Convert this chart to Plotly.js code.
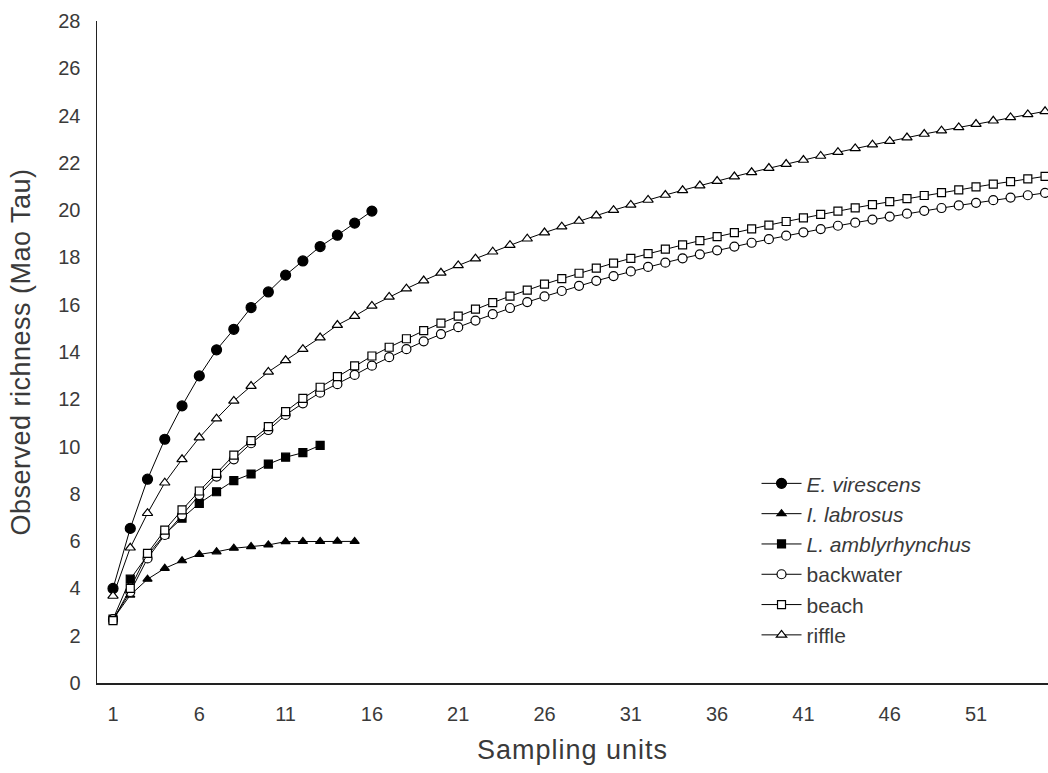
<!DOCTYPE html>
<html>
<head>
<meta charset="utf-8">
<script src="https://cdn.plot.ly/plotly-3.0.1.min.js"></script>
<style>
  html, body { margin: 0; padding: 0; background: #fff; }
  #chart { width: 1048px; height: 773px; }
  #chart .xtitle { letter-spacing: 1px; }
  #chart .ytitle { letter-spacing: 0.5px; }
</style>
</head>
<body>
<div id="chart"></div>
<script>
// Species accumulation curves (Mao Tau observed richness) per sampling unit
const eVirescens = [4.0, 6.54, 8.62, 10.31, 11.72, 12.99, 14.09, 14.96, 15.88, 16.54,
  17.25, 17.85, 18.46, 18.94, 19.45, 19.96];
const iLabrosus = [2.7, 3.72, 4.39, 4.85, 5.17, 5.44, 5.55, 5.7, 5.77, 5.84,
  5.98, 5.99, 5.99, 6.0, 5.99];
const lAmblyrhynchus = [2.7, 4.39, 5.4, 6.3, 6.97, 7.6, 8.09, 8.56, 8.84, 9.26,
  9.55, 9.74, 10.05];
const backwater = [2.7, 3.85, 5.27, 6.26, 7.1, 7.95, 8.73, 9.46, 10.14, 10.7,
  11.34, 11.83, 12.28, 12.64, 13.03, 13.42, 13.78, 14.12, 14.45, 14.76,
  15.05, 15.33, 15.6, 15.86, 16.11, 16.35, 16.58, 16.8, 17.01, 17.21,
  17.41, 17.6, 17.78, 17.96, 18.13, 18.3, 18.46, 18.62, 18.77, 18.92,
  19.06, 19.2, 19.34, 19.47, 19.6, 19.73, 19.85, 19.97, 20.09, 20.2,
  20.31, 20.42, 20.53, 20.63, 20.73];
const beach = [2.64, 4.0, 5.48, 6.47, 7.32, 8.12, 8.87, 9.64, 10.25, 10.84,
  11.48, 12.04, 12.51, 12.96, 13.41, 13.83, 14.2, 14.56, 14.9, 15.22,
  15.52, 15.81, 16.09, 16.36, 16.62, 16.87, 17.1, 17.33, 17.55, 17.76,
  17.96, 18.16, 18.35, 18.53, 18.71, 18.88, 19.05, 19.21, 19.37, 19.52,
  19.67, 19.82, 19.96, 20.1, 20.23, 20.36, 20.49, 20.62, 20.74, 20.86,
  20.98, 21.1, 21.21, 21.32, 21.43];
const riffle = [3.68, 5.72, 7.18, 8.47, 9.46, 10.38, 11.18, 11.93, 12.56, 13.16,
  13.65, 14.12, 14.61, 15.14, 15.52, 15.95, 16.33, 16.68, 17.02, 17.35,
  17.66, 17.95, 18.24, 18.52, 18.79, 19.05, 19.3, 19.54, 19.77, 20.0,
  20.22, 20.43, 20.64, 20.84, 21.04, 21.23, 21.42, 21.6, 21.78, 21.95,
  22.12, 22.29, 22.45, 22.61, 22.77, 22.92, 23.07, 23.22, 23.36, 23.5,
  23.64, 23.78, 23.92, 24.05, 24.18];

const xTicks = [1, 6, 11, 16, 21, 26, 31, 36, 41, 46, 51];
const yTicks = [0, 2, 4, 6, 8, 10, 12, 14, 16, 18, 20, 22, 24, 26, 28];

const units = n => Array.from({length: n}, (_, i) => i + 1);

function series(name, values, symbol, filled, size) {
  return {
    type: 'scatter',
    mode: 'lines+markers',
    name: name,
    x: units(values.length),
    y: values,
    line: {color: '#000', width: 1},
    marker: {
      symbol: symbol,
      size: size,
      color: filled ? '#000' : '#fff',
      line: {color: '#000', width: 1.2}
    }
  };
}

const traces = [
  series('<i>E. virescens</i>', eVirescens, 'circle', true, 10),
  series('<i>I. labrosus</i>', iLabrosus, 'triangle-up', true, 8),
  series('<i>L. amblyrhynchus</i>', lAmblyrhynchus, 'square', true, 8),
  series('backwater', backwater, 'circle', false, 9),
  series('beach', beach, 'square', false, 8),
  series('riffle', riffle, 'triangle-up', false, 9)
];

const txt = '#3a3a3a';
const layout = {
  width: 1048,
  height: 773,
  margin: {l: 97, r: 0, t: 21, b: 90},
  paper_bgcolor: '#fff',
  plot_bgcolor: '#fff',
  font: {family: 'Liberation Sans, Arial, sans-serif', color: txt, size: 20},
  showlegend: true,
  legend: {
    x: 0.6935, y: 0.332, xanchor: 'left', yanchor: 'top',
    bgcolor: 'rgba(0,0,0,0)',
    font: {size: 21, color: txt},
    tracegroupgap: 0,
    itemwidth: 40
  },
  xaxis: {
    range: [0.073, 55.17],
    tickmode: 'array',
    tickvals: xTicks,
    ticktext: xTicks.map(String),
    showgrid: false,
    zeroline: false,
    showline: true,
    linecolor: '#222',
    linewidth: 1.5,
    ticks: 'outside',
    ticklen: 12,
    tickcolor: 'rgba(0,0,0,0)',
    tickfont: {size: 20, color: txt},
    title: {text: 'Sampling units', font: {size: 27, color: txt}, standoff: 16}
  },
  yaxis: {
    range: [0, 28],
    tickmode: 'array',
    tickvals: yTicks,
    showgrid: false,
    zeroline: false,
    showline: true,
    linecolor: '#222',
    linewidth: 1.5,
    ticks: 'outside',
    ticklen: 11,
    tickcolor: 'rgba(0,0,0,0)',
    tickfont: {size: 20, color: txt},
    title: {text: 'Observed richness (Mao Tau)', font: {size: 27, color: txt}, standoff: 20}
  }
};

Plotly.newPlot('chart', traces, layout, {displayModeBar: false, staticPlot: true});
</script>
</body>
</html>
